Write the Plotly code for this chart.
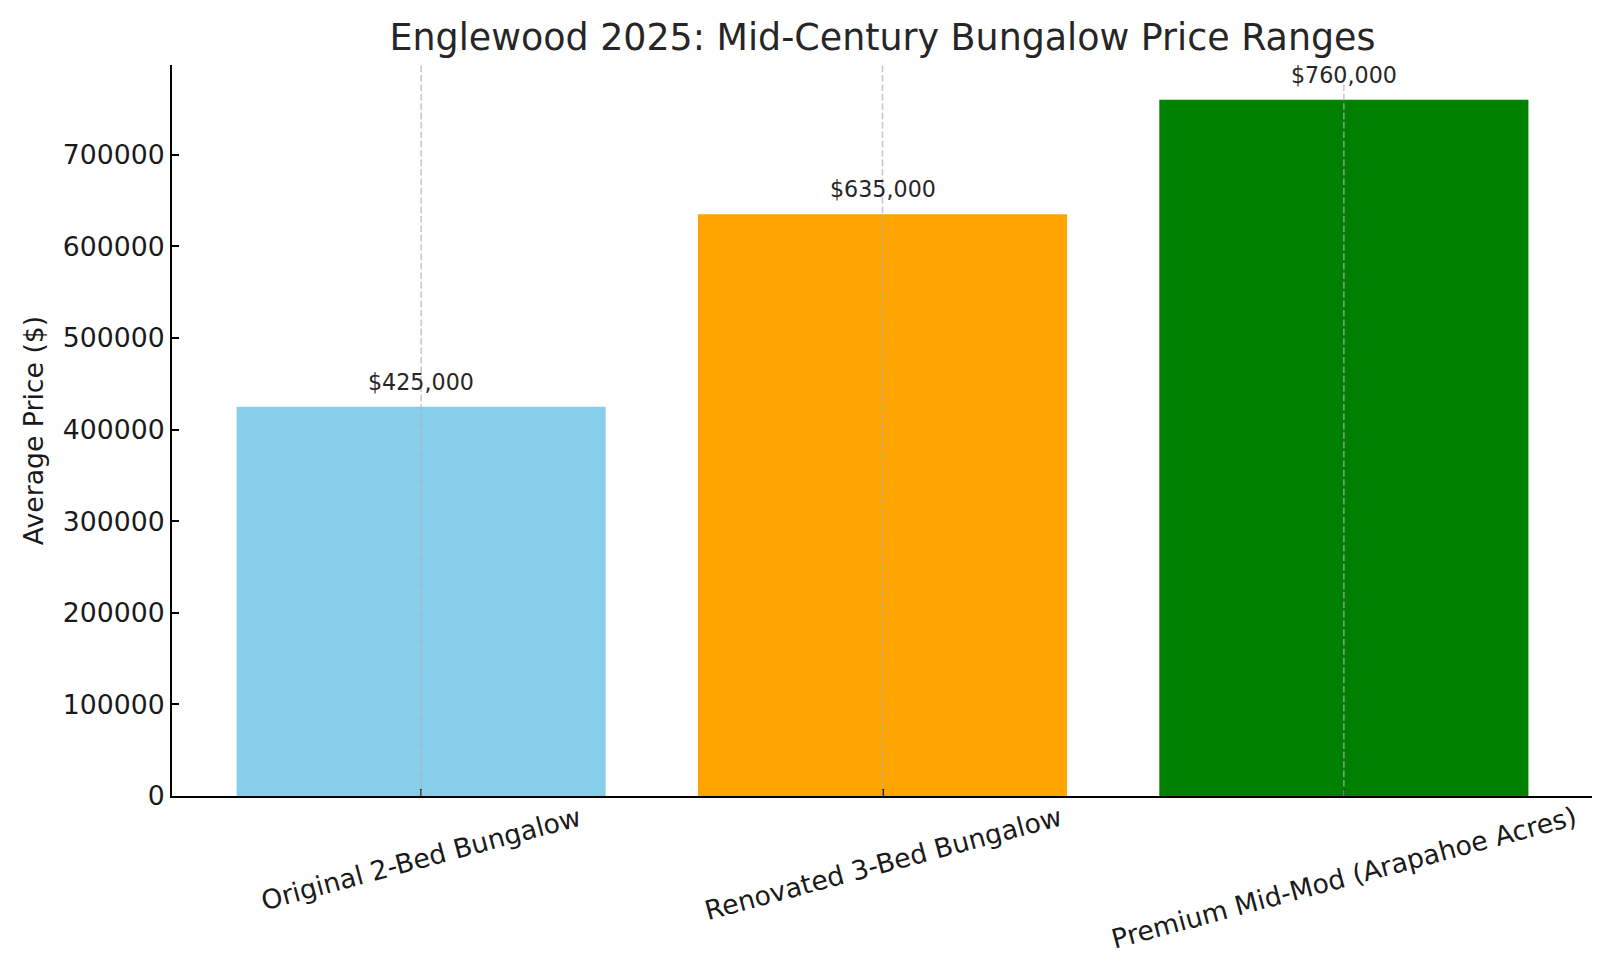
import plotly.graph_objects as go

categories = ["Original 2-Bed Bungalow", "Renovated 3-Bed Bungalow", "Premium Mid-Mod (Arapahoe Acres)"]
prices = [425000, 635000, 760000]
colors = ["#87CEEB", "#FFA500", "#008000"]
y_ticks = [0, 100000, 200000, 300000, 400000, 500000, 600000, 700000]
title_text = "Englewood 2025: Mid-Century Bungalow Price Ranges"
y_title = "Average Price ($)"

FONT = "DejaVu Sans"
W, H = 1600, 965
L, R, T, B = 164, 15, 57, 177

fig = go.Figure()
fig.add_trace(go.Bar(
    x=categories, y=prices, marker=dict(color=colors, line=dict(width=0)),
    width=0.8, showlegend=False, hoverinfo="skip",
))

# value labels
for c, v in zip(categories, prices):
    fig.add_annotation(x=c, y=v, xref="x", yref="y", text=f"${v:,}",
                       showarrow=False, yanchor="bottom", xanchor="center",
                       yshift=10, font=dict(family=FONT, size=22.2, color="#262626"))

# rotated category labels
for c in categories:
    fig.add_annotation(x=c, y=0, xref="x", yref="paper", text=c, showarrow=False,
                       textangle=-15, xanchor="center", yanchor="top", yshift=-2,
                       font=dict(family=FONT, size=26.7, color="#1a1a1a"))

# dashed vertical grid lines drawn above bars
for c in categories:
    fig.add_shape(type="line", xref="x", yref="paper", x0=c, x1=c, y0=0, y1=1,
                  line=dict(color="rgba(176,176,176,0.7)", width=1.6, dash="6.6px,2.8px"),
                  layer="above")

fig.update_layout(
    width=W, height=H,
    margin=dict(l=L, r=R, t=T, b=B, pad=0),
    paper_bgcolor="white", plot_bgcolor="white",
    font=dict(family=FONT, color="#1a1a1a"),
    title=dict(text=title_text, x=(L + (W - L - R) / 2) / W, xanchor="center",
               y=1 - 29 / H, yanchor="middle", yref="container",
               font=dict(family=FONT, size=36.4, color="#262626")),
    bargap=0.2,
)
fig.update_xaxes(
    type="category", range=[-0.54, 2.54], showgrid=False, zeroline=False,
    showline=True, linecolor="black", linewidth=1.8, ticks="inside", ticklen=7.5,
    tickwidth=1.6, tickcolor="black", showticklabels=False,
)
fig.update_yaxes(
    range=[0, 798000], tickvals=y_ticks, ticktext=[str(t) for t in y_ticks],
    showgrid=False, zeroline=False, showline=True, linecolor="black", linewidth=1.8,
    ticks="inside", ticklen=7.5, tickwidth=1.6, tickcolor="black",
    tickfont=dict(family=FONT, size=26.7, color="#1a1a1a"),
    title=dict(text=y_title, font=dict(family=FONT, size=26.7, color="#1a1a1a"), standoff=12),
)

fig.write_html("out.html")
